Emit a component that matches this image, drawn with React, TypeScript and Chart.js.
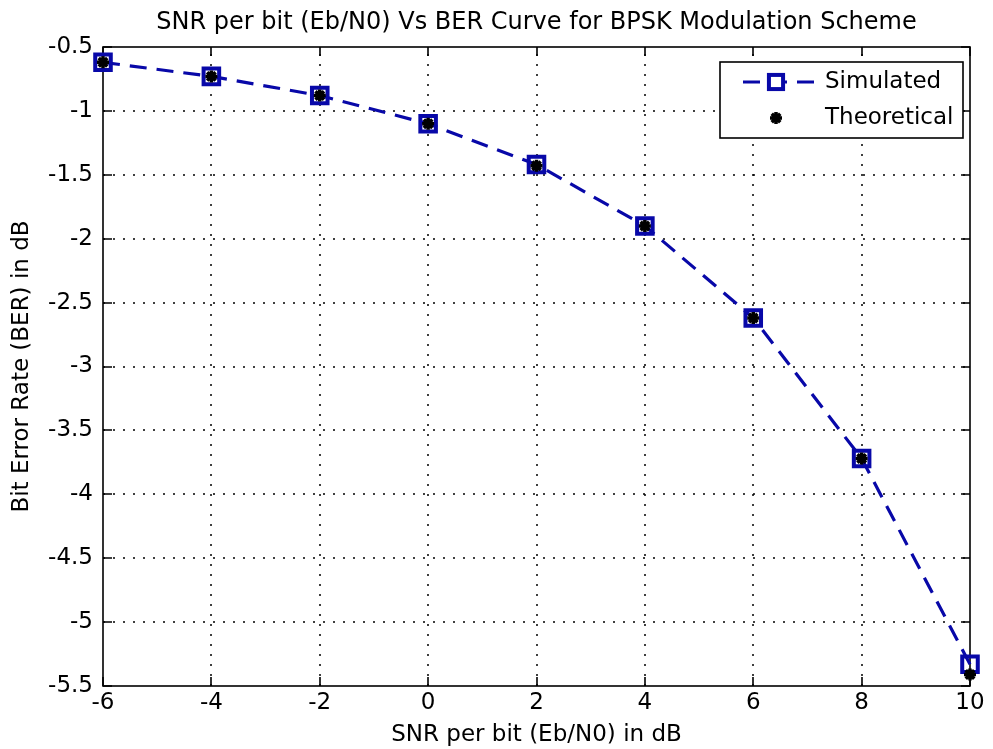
import React, { useEffect, useRef } from "react";
import { Chart, registerables } from "chart.js";

Chart.register(...registerables);

// ---- data ----
const snrDb = [-6, -4, -2, 0, 2, 4, 6, 8, 10];
const simulatedBer = [-0.62, -0.73, -0.88, -1.1, -1.42, -1.9, -2.62, -3.72, -5.33];
const theoreticalBer = [-0.62, -0.73, -0.88, -1.1, -1.43, -1.9, -2.62, -3.72, -5.41];
const xTicks = [-6, -4, -2, 0, 2, 4, 6, 8, 10];
const yTicks = [-0.5, -1, -1.5, -2, -2.5, -3, -3.5, -4, -4.5, -5, -5.5];

const titleText = "SNR per bit (Eb/N0) Vs BER Curve for BPSK Modulation Scheme";
const xTitle = "SNR per bit (Eb/N0) in dB";
const yTitle = "Bit Error Rate (BER) in dB";
const legendLabels = ["Simulated", "Theoretical"];

const FONT = "'DejaVu Sans', sans-serif";
const BLUE = "#0808a8";
const DASH = [17, 10];

export default function App() {
  const ref = useRef<HTMLCanvasElement>(null);

  useEffect(() => {
    const canvas = ref.current!;

    const framePlugin = {
      id: "matlabFrame",
      beforeDatasetsDraw(chart: any) {
        const { ctx, chartArea: a, scales } = chart;
        const x = scales.x;
        const y = scales.y;
        ctx.save();
        // dotted grid
        ctx.strokeStyle = "#000";
        ctx.lineWidth = 1.5;
        ctx.setLineDash([2, 8]);
        xTicks.forEach((v) => {
          const px = Math.round(x.getPixelForValue(v));
          if (px <= a.left + 1 || px >= a.right - 1) return;
          ctx.beginPath();
          ctx.moveTo(px, a.bottom);
          ctx.lineTo(px, a.top);
          ctx.stroke();
        });
        yTicks.forEach((v) => {
          const py = Math.round(y.getPixelForValue(v));
          if (py <= a.top + 1 || py >= a.bottom - 1) return;
          ctx.beginPath();
          ctx.moveTo(a.left, py);
          ctx.lineTo(a.right, py);
          ctx.stroke();
        });
        ctx.setLineDash([]);
        // box
        ctx.lineWidth = 1.6;
        ctx.strokeRect(a.left, a.top, a.right - a.left, a.bottom - a.top);
        // inside ticks
        const tl = 9;
        ctx.beginPath();
        xTicks.forEach((v) => {
          const px = Math.round(x.getPixelForValue(v));
          ctx.moveTo(px, a.bottom);
          ctx.lineTo(px, a.bottom - tl);
          ctx.moveTo(px, a.top);
          ctx.lineTo(px, a.top + tl);
        });
        yTicks.forEach((v) => {
          const py = Math.round(y.getPixelForValue(v));
          ctx.moveTo(a.left, py);
          ctx.lineTo(a.left + tl, py);
          ctx.moveTo(a.right, py);
          ctx.lineTo(a.right - tl, py);
        });
        ctx.stroke();
        ctx.restore();
      },
      afterDraw(chart: any) {
        const { ctx, chartArea: a } = chart;
        ctx.save();
        // title
        ctx.fillStyle = "#000";
        ctx.font = `24px ${FONT}`;
        ctx.textAlign = "center";
        ctx.textBaseline = "alphabetic";
        ctx.fillText(titleText, (a.left + a.right) / 2, 29);

        // legend
        const w = 243;
        const h = 76;
        const right = a.right - 7;
        const left = right - w;
        const top = a.top + 15;
        ctx.fillStyle = "#fff";
        ctx.fillRect(left, top, w, h);
        ctx.strokeStyle = "#000";
        ctx.lineWidth = 1.6;
        ctx.strokeRect(left, top, w, h);

        const r1 = top + 20;
        const r2 = top + 56;
        const mx = left + 56;
        // simulated line + marker
        ctx.strokeStyle = BLUE;
        ctx.lineWidth = 3;
        ctx.setLineDash(DASH);
        ctx.beginPath();
        ctx.moveTo(left + 23, r1);
        ctx.lineTo(left + 95, r1);
        ctx.stroke();
        ctx.setLineDash([]);
        ctx.lineWidth = 4;
        const s = 10 * Math.SQRT1_2;
        ctx.fillStyle = "#fff";
        ctx.fillRect(mx - s, r1 - s, 2 * s, 2 * s);
        ctx.strokeRect(mx - s, r1 - s, 2 * s, 2 * s);
        // theoretical star
        ctx.strokeStyle = "#000";
        ctx.lineWidth = 3.5;
        const rr = 6;
        const d = rr * Math.SQRT1_2;
        ctx.beginPath();
        ctx.moveTo(mx - rr, r2);
        ctx.lineTo(mx + rr, r2);
        ctx.moveTo(mx, r2 - rr);
        ctx.lineTo(mx, r2 + rr);
        ctx.moveTo(mx - d, r2 - d);
        ctx.lineTo(mx + d, r2 + d);
        ctx.moveTo(mx - d, r2 + d);
        ctx.lineTo(mx + d, r2 - d);
        ctx.stroke();

        ctx.fillStyle = "#000";
        ctx.font = `23px ${FONT}`;
        ctx.textAlign = "left";
        ctx.textBaseline = "middle";
        ctx.fillText(legendLabels[0], left + 105, r1);
        ctx.fillText(legendLabels[1], left + 105, r2);
        ctx.restore();
      },
    };

    const chart = new Chart(canvas, {
      type: "line",
      data: {
        datasets: [
          {
            label: legendLabels[0],
            data: snrDb.map((x, i) => ({ x, y: simulatedBer[i] })),
            borderColor: BLUE,
            borderWidth: 3.2,
            borderDash: DASH,
            pointStyle: "rect",
            pointRadius: 11,
            pointBorderWidth: 4,
            pointBorderColor: BLUE,
            pointBackgroundColor: "rgba(255,255,255,0)",
            tension: 0,
            order: 2,
            clip: false,
          } as any,
          {
            label: legendLabels[1],
            data: snrDb.map((x, i) => ({ x, y: theoreticalBer[i] })),
            showLine: false,
            pointStyle: "star",
            pointRadius: 6,
            pointBorderWidth: 3.5,
            pointBorderColor: "#000",
            pointBackgroundColor: "#000",
            order: 1,
            clip: false,
          } as any,
        ],
      },
      options: {
        animation: false,
        responsive: false,
        maintainAspectRatio: false,
        layout: { padding: { top: 47, right: 23, left: 0, bottom: 0 } },
        plugins: {
          legend: { display: false },
          title: { display: false },
          tooltip: { enabled: false },
        },
        scales: {
          x: {
            type: "linear",
            min: -6,
            max: 10,
            afterBuildTicks: (s: any) => {
              s.ticks = xTicks.map((v) => ({ value: v }));
            },
            afterFit: (s: any) => {
              s.height = 63;
            },
            grid: { display: false, drawTicks: false },
            border: { display: false },
            ticks: {
              padding: 3,
              color: "#000",
              autoSkip: false,
              maxRotation: 0,
              font: { family: FONT, size: 23 },
              callback: (v: any) => String(v),
            },
            title: {
              display: true,
              text: xTitle,
              color: "#000",
              font: { family: FONT, size: 23 },
              padding: { top: 0, bottom: 0 },
            },
          },
          y: {
            type: "linear",
            min: -5.5,
            max: -0.5,
            afterBuildTicks: (s: any) => {
              s.ticks = yTicks.map((v) => ({ value: v }));
            },
            afterFit: (s: any) => {
              s.width = 103;
            },
            grid: { display: false, drawTicks: false },
            border: { display: false },
            ticks: {
              padding: 10,
              color: "#000",
              autoSkip: false,
              font: { family: FONT, size: 23 },
              callback: (v: any) => String(v),
            },
            title: {
              display: true,
              text: yTitle,
              color: "#000",
              font: { family: FONT, size: 23 },
              padding: { top: 8, bottom: 0 },
            },
          },
        },
      } as any,
      plugins: [framePlugin],
    });

    return () => chart.destroy();
  }, []);

  return (
    <div style={{ position: "fixed", left: 0, top: 0, width: 993, height: 749, background: "#fff" }}>
      <canvas ref={ref} width={993} height={749} style={{ display: "block", width: 993, height: 749 }} />
    </div>
  );
}
